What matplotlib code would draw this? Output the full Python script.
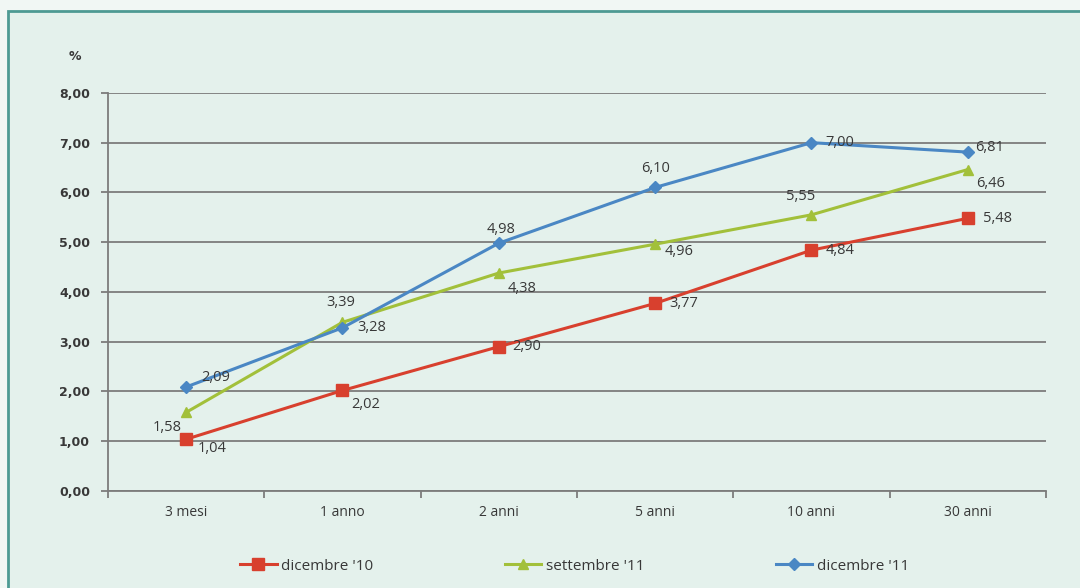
import numpy as np
import matplotlib
matplotlib.use("Agg")
import matplotlib.pyplot as plt
from matplotlib.patches import Rectangle

# scadenze e rendimenti (%)
scadenze = ["3 mesi", "1 anno", "2 anni", "5 anni", "10 anni", "30 anni"]
dic_10 = [1.04, 2.02, 2.90, 3.77, 4.84, 5.48]
set_11 = [1.58, 3.39, 4.38, 4.96, 5.55, 6.46]
dic_11 = [2.09, 3.28, 4.98, 6.10, 7.00, 6.81]

# offset delle etichette (punti)
off_dic_10 = [(8, -7), (6, -10), (10, 0), (10, 0), (10, 0), (11, 0)]
off_set_11 = [(-24, -11), (-12, 14), (6, -11), (7, -5), (-18, 13), (6, -10)]
off_dic_11 = [(11, 7), (11, 0), (-9, 10), (-10, 14), (10, 0), (5, 3)]

BG = "#e4f1ec"
TXT = "#383838"

fig = plt.figure(figsize=(10.8, 5.88), dpi=100)
fig.patch.set_facecolor("#f1f7f4")
fig.patches.append(Rectangle((8 / 1080, -0.05), 1.1, 1 - 11 / 588 + 0.05,
                             transform=fig.transFigure, facecolor=BG,
                             edgecolor="#4d9a93", linewidth=2, zorder=-10))

ax = fig.add_axes([0.1, 0.165, 0.8685, 0.677])
ax.patch.set_alpha(0)

x = np.arange(len(scadenze))
series = [
    (dic_10, "dicembre '10", "#d8402e", "s", 9, off_dic_10),
    (set_11, "settembre '11", "#a2c03a", "^", 7.5, off_set_11),
    (dic_11, "dicembre '11", "#4a87c4", "D", 6, off_dic_11),
]
for vals, name, col, mk, ms, offs in series:
    ax.plot(x, vals, color=col, lw=2.2, marker=mk, markersize=ms,
            markerfacecolor=col, markeredgecolor=col, label=name, zorder=3)
    for xi, v, o in zip(x, vals, offs):
        ax.annotate(f"{v:.2f}".replace(".", ","), (xi, v), xytext=o,
                    textcoords="offset points", fontsize=10.5, color=TXT,
                    ha="left", va="center", family="Open Sans", zorder=4)

ax.set_xlim(-0.5, len(scadenze) - 0.5)
ax.set_ylim(0, 8)
ax.set_yticks(np.arange(0, 9, 1))
ax.set_yticklabels([f"{v:.2f}".replace(".", ",") for v in range(9)],
                   fontsize=9, fontweight="bold", color=TXT, family="DejaVu Sans")
ax.yaxis.grid(True, color="#7c7c7c", lw=1.3)
ax.set_axisbelow(True)

ax.set_xticks(x)
ax.set_xticklabels(scadenze, fontsize=10, color=TXT, family="Open Sans")
ax.tick_params(axis="x", which="major", length=0, pad=10)
ax.set_xticks(np.arange(-0.5, len(scadenze)), minor=True)
ax.tick_params(axis="x", which="minor", length=5, color="#7c7c7c", width=1.3)
ax.tick_params(axis="y", length=5, color="#7c7c7c", width=1.3, pad=8)

for s in ["top", "right"]:
    ax.spines[s].set_visible(False)
for s in ["left", "bottom"]:
    ax.spines[s].set_color("#7c7c7c")
    ax.spines[s].set_linewidth(1.3)

fig.text(75 / 1080, 1 - 57 / 588, "%", fontsize=9, fontweight="bold",
         color=TXT, ha="center", va="center")

leg = fig.legend(loc="center", bbox_to_anchor=(0.532, 1 - 566 / 588), ncol=3,
                 frameon=False, columnspacing=8.6, handlelength=2.4,
                 handletextpad=0.3, prop={"family": "Open Sans", "size": 11})
for t in leg.get_texts():
    t.set_color(TXT)

fig.savefig("out.png", dpi=100, facecolor=fig.get_facecolor())
